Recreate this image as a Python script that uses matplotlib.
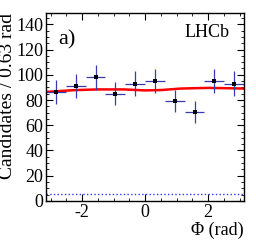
import numpy as np
import matplotlib.pyplot as plt
from matplotlib.ticker import MultipleLocator

plt.rcParams['font.family'] = ['Liberation Serif', 'DejaVu Serif']
plt.rcParams['axes.unicode_minus'] = False

# binned data (10 bins of 2pi/10)
phi_centers = [-2.827, -2.199, -1.571, -0.942, -0.314, 0.314, 0.942, 1.571, 2.199, 2.827]
counts = [86.5, 91, 98, 85, 93, 95, 79, 70.5, 95, 93]
bin_halfwidth = np.pi / 10

# fit curve
fit_phi = [-3.1416, -2.27, -1.50, -0.67, 0.0, 0.51, 1.15, 2.02, 3.1416]
fit_val = [86.4, 87.8, 88.4, 88.4, 87.6, 87.9, 89.1, 89.6, 89.1]

background_level = 5.5

fig = plt.figure(figsize=(2.56, 2.45), dpi=100)
ax = fig.add_axes([0.18, 0.18, 0.773, 0.767])

ax.axhline(background_level, color='#3333ff', ls=':', lw=1.0)
ax.plot(fit_phi, fit_val, color='red', lw=1.8)
ax.errorbar(phi_centers, counts, yerr=np.sqrt(counts), xerr=bin_halfwidth,
            fmt='s', color='black', ms=2.6, mew=0, ecolor='#3a3ab0', elinewidth=0.9,
            capsize=0)

ax.set_xlim(-np.pi, np.pi)
ax.set_ylim(0, 149)
ax.xaxis.set_major_locator(MultipleLocator(2))
ax.xaxis.set_minor_locator(MultipleLocator(0.5))
ax.yaxis.set_major_locator(MultipleLocator(20))
ax.yaxis.set_minor_locator(MultipleLocator(5))
ax.tick_params(which='both', direction='in', top=True, right=True, labelsize=13, pad=2)
ax.tick_params(which='major', length=5)
ax.tick_params(which='minor', length=2.5)
for s in ax.spines.values():
    s.set_linewidth(1.0)

ax.set_ylabel('Candidates / 0.63 rad', fontsize=14, loc='top', labelpad=0)
ax.set_xlabel('Φ (rad)', fontsize=13, loc='right', labelpad=1)

ax.text(0.06, 0.83, 'a)', transform=ax.transAxes, fontsize=16)
ax.text(0.70, 0.87, 'LHCb', transform=ax.transAxes, fontsize=13)

fig.savefig('out.png', dpi=100)
